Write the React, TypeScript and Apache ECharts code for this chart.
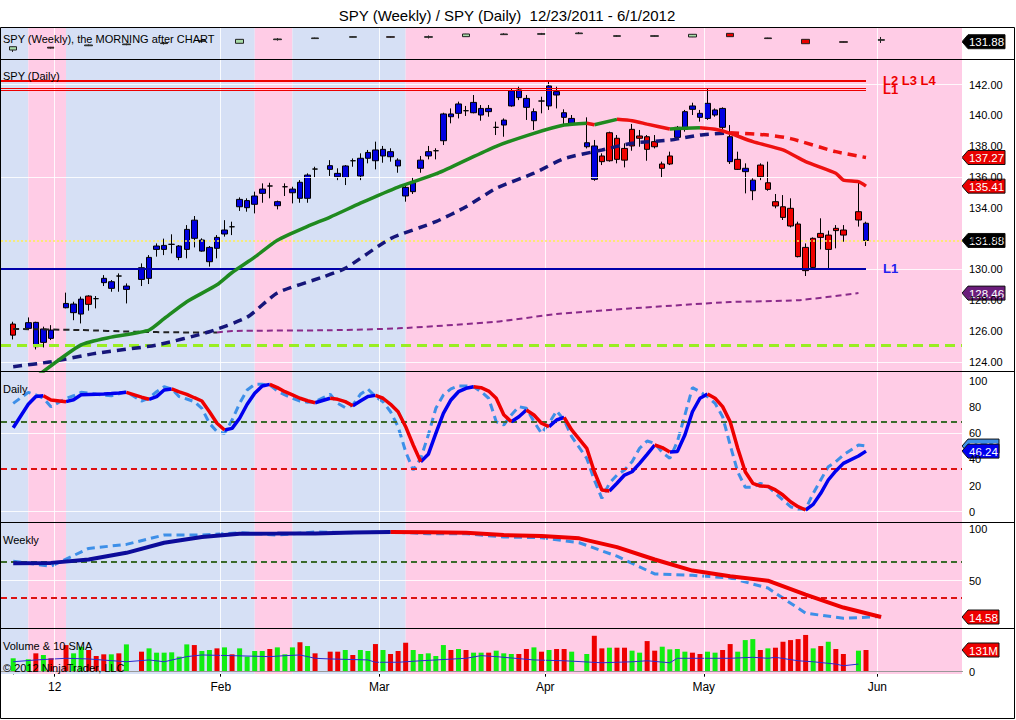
import React, { useEffect, useRef } from "react";
import * as echarts from "echarts";

// ---------------- calendar / categories ----------------
const TITLE = "SPY (Weekly) / SPY (Daily)  12/23/2011 - 6/1/2012";
const FIRST_DAY = "2011-12-23";
const LAST_DAY = "2012-05-30";
const LAST_WEEK_DAY = "2012-06-01";
const HOLIDAYS = ["2011-12-26", "2012-01-02", "2012-01-16", "2012-02-20", "2012-04-06", "2012-05-28"];
const MONTH_FIRST_DAYS = ["2012-01-02", "2012-02-01", "2012-03-01", "2012-04-02", "2012-05-01", "2012-06-01"];
const MONTH_LABELS = ["12", "Feb", "Mar", "Apr", "May", "Jun"];
// background state changes (starts blue, alternates)
const BAND_CHANGE_DAYS = ["2011-12-27", "2012-01-03", "2012-02-07", "2012-02-14", "2012-03-06"];

// ---------------- daily prices [open, close, low, high] ----------------
const OHLC: number[][] = [
  [126.45, 125.73, 125.45, 126.6],
  [126.17, 126.54, 126.1, 126.88], [124.98, 126.56, 124.8, 126.6], [125.26, 126.13, 124.93, 126.28], [125.52, 126.06, 125.41, 126.38],
  [127.51, 127.79, 127.47, 128.49], [127.19, 127.75, 126.7, 127.9], [127.1, 128.07, 126.49, 128.23], [128.27, 127.73, 127.32, 128.32],
  [128.1, 128.1, 127.47, 128.27], [129.14, 129.42, 128.92, 129.63], [128.77, 129.2, 128.55, 129.31], [129.57, 129.57, 128.55, 129.74], [128.7, 128.92, 127.79, 129.09],
  [129.35, 130.11, 128.92, 130.39], [129.42, 130.78, 129.05, 130.93], [131.3, 131.52, 130.83, 131.69], [131.3, 131.56, 130.93, 132.0],
  [131.63, 131.63, 131.04, 132.28], [130.78, 131.52, 130.6, 131.58], [131.3, 132.6, 130.72, 132.88], [132.02, 133.2, 131.43, 133.47], [131.19, 131.91, 131.15, 132.02],
  [130.5, 131.43, 130.18, 131.52], [131.37, 132.08, 130.72, 132.23], [132.3, 132.56, 132.13, 133.2], [132.77, 132.77, 132.23, 133.1], [134.07, 134.55, 133.8, 134.68],
  [134.01, 134.47, 133.75, 134.62], [134.23, 134.77, 133.64, 135.05], [134.94, 135.22, 134.33, 135.59], [135.42, 135.42, 134.62, 135.63], [134.14, 134.4, 133.9, 134.47],
  [135.37, 135.37, 134.77, 135.59], [134.98, 135.22, 134.29, 135.37], [134.62, 135.66, 134.33, 135.8], [134.62, 136.13, 134.33, 136.24], [136.52, 136.52, 135.98, 136.67],
  [136.5, 136.74, 136.07, 137.1], [136.02, 136.24, 135.8, 136.57], [135.98, 136.72, 135.48, 136.78], [137.06, 137.06, 136.67, 137.21],
  [136.07, 137.22, 135.8, 137.54], [137.22, 137.6, 136.89, 137.76], [137.06, 137.76, 136.5, 138.3], [137.37, 137.8, 136.93, 138.02], [137.32, 137.65, 137.0, 137.87],
  [136.72, 137.1, 136.28, 137.22], [134.77, 135.33, 134.4, 135.48], [135.05, 135.63, 134.9, 135.98], [136.57, 137.1, 136.28, 137.37], [137.37, 137.65, 137.15, 138.02],
  [137.71, 137.71, 137.15, 137.87], [138.36, 140.1, 138.08, 140.18], [139.92, 140.1, 139.49, 140.46], [140.14, 140.75, 139.81, 140.9], [140.31, 140.31, 139.97, 140.62],
  [140.18, 140.85, 140.14, 141.33], [140.03, 140.46, 139.66, 140.68], [140.25, 140.46, 139.92, 140.68], [139.23, 139.23, 138.73, 139.6], [139.38, 139.7, 138.62, 139.81],
  [140.62, 141.61, 140.57, 141.76], [141.16, 141.66, 141.0, 141.87], [140.53, 141.11, 139.71, 141.33], [139.66, 140.25, 139.06, 140.46], [140.94, 140.94, 140.14, 141.22],
  [140.62, 141.92, 140.36, 142.2], [141.33, 141.55, 140.46, 141.87], [139.88, 140.18, 139.38, 140.4], [139.49, 139.81, 139.32, 140.03],
  [137.97, 138.23, 137.86, 139.88], [135.85, 138.02, 135.76, 138.41], [137.37, 137.0, 136.78, 137.54], [138.88, 137.06, 137.0, 138.95], [138.52, 137.15, 136.89, 138.73],
  [137.86, 137.1, 136.63, 138.19], [139.1, 138.02, 137.71, 139.45], [138.67, 138.52, 137.97, 139.06], [138.62, 137.8, 137.06, 138.73], [138.3, 137.97, 137.86, 138.73],
  [136.85, 136.57, 135.98, 137.0], [137.37, 136.85, 136.78, 137.65], [138.58, 139.23, 138.52, 139.32], [139.1, 140.25, 138.95, 140.36], [140.4, 140.62, 140.03, 140.83],
  [139.88, 140.14, 139.6, 140.36], [139.81, 140.79, 139.71, 141.76], [140.03, 140.36, 139.92, 140.46], [139.23, 140.46, 139.1, 140.53], [137.0, 138.62, 136.85, 139.38],
  [137.15, 136.5, 136.46, 137.65], [136.35, 136.57, 134.94, 136.89], [135.11, 135.8, 134.5, 135.92], [136.78, 136.02, 135.8, 136.89], [135.63, 135.2, 135.11, 137.0],
  [134.4, 134.12, 133.97, 134.9], [134.07, 133.38, 133.21, 134.83], [133.97, 132.82, 132.73, 134.62], [132.95, 130.83, 130.78, 133.1], [131.43, 129.92, 129.57, 131.69],
  [132.02, 130.13, 130.07, 132.08], [132.34, 132.08, 131.3, 133.32], [132.23, 131.3, 130.0, 132.52], [132.67, 132.52, 131.37, 132.88], [132.56, 132.23, 131.8, 132.88],
  [133.75, 133.21, 132.78, 135.63], [131.88, 133.0, 131.52, 133.1],
];
const LAST_PRICE = 131.88;

// volume (millions) and up/down day flag
const VOLUME = [
  81,
  75, 111, 101, 81,
  161, 111, 151, 131,
  95, 105, 105, 111, 165,
  121, 141, 115, 115,
  117, 91, 165, 161, 125,
  131, 141, 147, 105, 141,
  91, 125, 125, 137, 147,
  105, 147, 178, 155, 111,
  121, 121, 131, 101,
  131, 125, 167, 131, 107,
  125, 175, 131, 107, 111,
  95, 161, 131, 137, 131,
  115, 115, 115, 127, 111,
  107, 107, 137, 147, 121,
  131, 137, 137, 121,
  107, 217, 141, 145, 145,
  145, 127, 115, 185, 127,
  151, 135, 137, 121, 115,
  107, 121, 115, 131, 167,
  121, 191, 197, 131, 141,
  145, 181, 191, 197, 222,
  141, 155, 181, 137, 107,
  127, 131,
];
const VOL_UP = [
  1,
  1, 0, 1, 0,
  0, 1, 1, 0,
  0, 0, 1, 0, 1,
  0, 1, 1, 1,
  1, 1, 1, 0, 1,
  1, 0, 1, 0, 1,
  1, 1, 1, 0, 1,
  1, 1, 0, 1, 0,
  0, 0, 1, 0,
  1, 1, 0, 1, 0,
  0, 0, 1, 1, 1,
  1, 1, 0, 1, 0,
  1, 1, 0, 1, 1,
  1, 0, 0, 1, 0,
  1, 0, 0, 1,
  1, 0, 0, 1, 0,
  0, 1, 1, 0, 0,
  1, 1, 1, 1, 0,
  0, 1, 1, 0, 0,
  1, 1, 1, 0, 1,
  0, 0, 0, 0, 0,
  1, 0, 1, 0, 0,
  1, 0,
];
const VOL_SMA_SLOTS = [0, 3, 7, 10, 15, 18, 20, 23, 25, 29, 34, 36, 38, 40, 42, 47, 48, 51, 54, 56, 60, 62, 64, 69, 73, 78, 82, 84, 87, 88, 91, 95, 98, 100, 101, 104, 106, 109, 110, 112];
const VOL_SMA = [60, 71, 81, 77, 60, 71, 60, 91, 101, 97, 91, 97, 101, 81, 77, 71, 57, 57, 66, 71, 81, 97, 91, 71, 66, 54, 60, 66, 54, 81, 81, 81, 87, 81, 87, 66, 60, 46, 36, 46];

// daily stochastics
const STOCH_D_SOLID = [
  64.1,
  82, 88.0, 88.5, 85.3,
  84, 85.5, 89.3, 89.5,
  89.7, 89.9, 90.2, 90.6, 91.1,
  87.4, 85.8, 87.8, 92.9,
  93.7, 91.5, 89.6, 87, 84.5,
  76.3, 67.5, 62.4, 63.6, 71.3,
  82, 90.4, 96, 97.2, 94.7,
  91.6, 89.1, 86.6, 84.7, 83.2,
  86.6, 85.8, 84, 80.9,
  84.5, 88.0, 88.8, 86.6, 82,
  76.3, 64.9, 50.9, 38.2, 43.8,
  59.8, 75.1, 85.3, 91.6, 94.2,
  95.4, 94.7, 92.1, 86.6, 74,
  68.7, 72.5, 77.6, 73.8, 67.5,
  64.9, 70, 72, 62.4,
  48.4, 30.5, 16.6, 15.8, 21.7,
  28, 30.5, 36.9, 43.8, 50.9,
  48.9, 45.6, 46.0, 58.5, 76.3,
  86.6, 89.8, 86.6, 80.2, 68.7,
  48.4, 30.5, 21.7, 19.6, 19.3,
  16.6, 12.7, 7.6, 3.8, 1.3,
  5.6, 14, 24.2, 31.1, 36.9,
  42.5, 46.24,
];
const STOCH_D_DASH = [
  82.7,
  91.1, 89.1, 86.6, 80.2,
  86.5, 88.5, 91.1, 90.5,
  89.6, 89, 88.5, 90, 91.6,
  84.5, 86.6, 91.6, 95.4,
  93.7, 87.8, 86, 84, 78.9,
  67.5, 61.1, 59.8, 70, 82.7,
  92.9, 97.2, 97.2, 96.7, 92.1,
  89.1, 86.6, 84.5, 83.5, 84,
  89.6, 82.7, 79.4, 81.4,
  89.6, 93.7, 87.8, 84, 76.3,
  64.9, 45.8, 31.8, 40.7, 58.5,
  78.9, 89.1, 93.7, 96, 96,
  95.4, 91.6, 86.6, 68.7, 66.2,
  73.8, 80.2, 78.9, 68.7, 59.8,
  67.5, 76.9, 70, 57.3,
  40.7, 24.2, 10.2, 21.7, 28,
  31.8, 38.2, 48.4, 54, 52.2,
  45.3, 40.7, 53.4, 73.8, 94.7,
  91.6, 87.8, 82.7, 72.5, 50.9,
  30.5, 18.6, 18.6, 21.7, 19.3,
  14, 8.9, 3.8, 2, 2,
  14, 24.2, 34.4, 38.2, 43.3,
  50.9, 50.1,
];
const STOCH_LEVELS = [68.5, 33];

// moving averages sampled along the date axis (weekday slot, value)
const SMA20_SLOTS = [3, 9, 13, 18, 20, 23, 27, 29, 32, 35, 39, 42, 46, 51, 56, 60, 64, 69, 73, 76, 77, 80, 82, 84, 87, 89, 91, 93, 95, 98, 102, 105, 109, 110, 112, 113];
const SMA20 = [123.0, 125.1, 125.6, 126.06, 126.8, 127.9, 129.0, 129.8, 130.8, 131.9, 132.8, 133.4, 134.3, 135.35, 136.2, 137.1, 138.0, 138.84, 139.38, 139.5, 139.4, 139.75, 139.66, 139.44, 139.12, 139.17, 139.2, 139.1, 138.84, 138.3, 137.76, 137.0, 136.25, 135.8, 135.7, 135.41];
const SMA50_SLOTS = [0, 5, 11, 19, 26, 31, 35, 41, 44, 50, 56, 60, 64, 69, 73, 78, 82, 87, 91, 95, 100, 103, 109, 113];
const SMA50 = [123.68, 124.0, 124.55, 125.09, 125.95, 126.9, 128.47, 129.5, 130.07, 132.0, 133.1, 134.07, 135.27, 136.25, 137.2, 137.76, 138.2, 138.4, 138.73, 138.88, 138.73, 138.5, 137.65, 137.27];
const SMA200_SLOTS = [0, 9, 16, 22, 27, 29, 42, 51, 64, 72, 82, 95, 104, 112];
const SMA200 = [126.13, 126.06, 125.95, 125.91, 125.9, 126.0, 126.05, 126.17, 126.6, 127.1, 127.47, 127.88, 128.0, 128.46];

// horizontal levels
const LEVEL_L234 = 142.26;
const LEVEL_L1_RED = [141.77, 141.66];
const LEVEL_L1_BLUE = 130.05;
const LEVEL_LIME = 125.06;

// weekly bars (one per Friday) [open, close, low, high]
const W_OHLC: number[][] = [
  [124.1, 127.2, 122.3, 127.4], [126.7, 125.9, 125.4, 127.0], [128.1, 128.8, 127.8, 129.3], [129.1, 129.7, 128.6, 130.1],
  [130.1, 130.7, 129.2, 131.4], [132.2, 132.8, 131.8, 133.3], [130.4, 134.1, 130.3, 134.3], [133.8, 134.4, 132.9, 135.2],
  [134.8, 135.4, 134.5, 135.7], [136.0, 136.6, 135.9, 136.8], [136.6, 136.0, 135.6, 136.9], [136.0, 136.6, 134.9, 137.7],
  [136.6, 139.1, 136.5, 139.2], [138.5, 139.1, 138.2, 139.8], [138.8, 139.4, 138.4, 140.1], [139.4, 140.0, 139.0, 141.0],
  [136.9, 137.5, 136.4, 138.0], [136.9, 137.5, 136.6, 137.9], [136.3, 138.8, 136.2, 139.0], [139.7, 136.6, 136.5, 139.9],
  [135.4, 134.8, 134.5, 135.6], [134.1, 130.0, 129.9, 134.3], [131.9, 131.3, 131.0, 132.2], [133.2, 133.8, 130.7, 136.3],
];
const W_STOCH_SOLID = [67.0, 67.3, 70.6, 77.1, 86.9, 92.5, 95.7, 95.8, 96.0, 96.8, 97.4, 97.2, 96.7, 94.4, 93.4, 91.2, 82.6, 70.6, 59.8, 54.2, 50, 36.3, 23.8, 14.58];
const W_STOCH_DASH = [68.9, 64, 81.4, 85.3, 94.4, 94.4, 96.7, 94.4, 97.4, 96.7, 97.4, 95.7, 95.7, 92.5, 91.8, 86.9, 73.8, 56.5, 55.2, 52.6, 42.8, 18.3, 13.4, 15];

// axis tick labels
const PRICE_TICKS = [124, 126, 128, 130, 132, 134, 136, 138, 140, 142];
const STOCH_TICKS = [0, 20, 40, 60, 80, 100];
const WSTOCH_TICKS = [50, 100];
const VOL_TICKS = [0];

// ---------------- helpers ----------------
const MS = 86400000;
const toUTC = (s: string) => {
  const [y, m, d] = s.split("-").map(Number);
  return Date.UTC(y, m - 1, d);
};
const isWeekday = (t: number) => {
  const w = new Date(t).getUTCDay();
  return w !== 0 && w !== 6;
};
const iso = (t: number) => new Date(t).toISOString().slice(0, 10);
const slotOf = (s: string) => {
  const t0 = toUTC(FIRST_DAY);
  const t1 = toUTC(s);
  let n = 0;
  for (let t = t0 + MS; t <= t1; t += MS) if (isWeekday(t)) n++;
  return n;
};
const TRADING_DAYS: string[] = (() => {
  const out: string[] = [];
  for (let t = toUTC(FIRST_DAY); t <= toUTC(LAST_DAY); t += MS) {
    if (!isWeekday(t)) continue;
    const s = iso(t);
    if (!HOLIDAYS.includes(s)) out.push(s);
  }
  return out;
})();
const WEEK_DAYS: string[] = (() => {
  const out: string[] = [];
  for (let t = toUTC(FIRST_DAY); t <= toUTC(LAST_WEEK_DAY); t += MS) {
    if (new Date(t).getUTCDay() === 5) out.push(iso(t));
  }
  return out;
})();

function splitBySlope(xs: number[], ys: number[]) {
  const up: any[] = [];
  const dn: any[] = [];
  let lastUp = -2;
  let lastDn = -2;
  for (let i = 0; i < xs.length - 1; i++) {
    const rising = ys[i + 1] > ys[i];
    if (rising) {
      if (lastUp !== i) {
        if (up.length) up.push([xs[i], null]);
        up.push([xs[i], ys[i]]);
      }
      up.push([xs[i + 1], ys[i + 1]]);
      lastUp = i + 1;
    } else {
      if (lastDn !== i) {
        if (dn.length) dn.push([xs[i], null]);
        dn.push([xs[i], ys[i]]);
      }
      dn.push([xs[i + 1], ys[i + 1]]);
      lastDn = i + 1;
    }
  }
  return { up, dn };
}

const FONT = '"Liberation Sans", Arial, sans-serif';
const BLUE_BG = "#d6e0f5";
const PINK_BG = "#ffcce6";

// layout
const PLOT_L = 1;
const PLOT_R = 962;
const SLOT_PX = 7.547;
const FIRST_BAR_X = 13.2;
const XMIN = -(FIRST_BAR_X - PLOT_L) / SLOT_PX;
const XMAX = XMIN + (PLOT_R - PLOT_L) / SLOT_PX;
const GRIDS = [
  { top: 28, height: 31 },
  { top: 59, height: 312 },
  { top: 371, height: 151 },
  { top: 522, height: 106 },
  { top: 628, height: 46 },
];
const Y_RANGES = [
  [115.7, 144.7],
  [123.4, 143.67],
  [-7.86, 107.4],
  [3.9, 107.1],
  [-13.9, 264],
];

function buildOption() {
  const slots = TRADING_DAYS.map(slotOf);
  const lastSlot = slots[slots.length - 1];
  const wSlots = WEEK_DAYS.map(slotOf);
  const monthSlots = MONTH_FIRST_DAYS.map((d) => slotOf(d) - 0.5);
  const bandEdges = [XMIN, ...BAND_CHANGE_DAYS.map(slotOf), XMAX];
  const bands = bandEdges.slice(0, -1).map((from, i) => [
    { xAxis: from, itemStyle: { color: i % 2 === 0 ? BLUE_BG : PINK_BG } },
    { xAxis: bandEdges[i + 1] },
  ]);
  const whiteY = [[], [124, 130, 136, 142], [0, 60], [50], []];

  const xAxis = GRIDS.map((_, i) => ({
    type: "value",
    gridIndex: i,
    min: XMIN,
    max: XMAX,
    show: i === 4,
    splitLine: { show: false },
    axisLine: { show: true, lineStyle: { color: "#000", width: 1 } },
    axisTick: { show: true, customValues: monthSlots, length: 5, lineStyle: { color: "#000" } },
    axisLabel: {
      show: true,
      customValues: monthSlots,
      formatter: (v: number) => {
        const k = monthSlots.findIndex((m) => Math.abs(m - v) < 0.01);
        return k >= 0 ? MONTH_LABELS[k] : "";
      },
      color: "#000",
      fontSize: 12,
      fontFamily: FONT,
      margin: 7,
    },
  }));

  const tickSets = [[], PRICE_TICKS, STOCH_TICKS, WSTOCH_TICKS, VOL_TICKS];
  const yAxis = GRIDS.map((_, i) => ({
    type: "value",
    gridIndex: i,
    position: "right",
    min: Y_RANGES[i][0],
    max: Y_RANGES[i][1],
    splitLine: { show: false },
    axisLine: { show: true, lineStyle: { color: "#000", width: 1 } },
    axisTick: { show: i > 0, customValues: tickSets[i], length: 4, lineStyle: { color: "#000" } },
    axisLabel: {
      show: i > 0,
      customValues: tickSets[i],
      formatter: (v: number) => (i === 1 ? v.toFixed(2) : String(v)),
      color: "#000",
      fontSize: 11,
      fontFamily: FONT,
      margin: 7,
    },
  }));

  const series: any[] = [];
  // background bands + white grid lines in every panel
  GRIDS.forEach((_, i) => {
    series.push({
      type: "line",
      xAxisIndex: i,
      yAxisIndex: i,
      data: [],
      silent: true,
      z: 0,
      markArea: { silent: true, data: bands },
      markLine: {
        silent: true,
        symbol: ["none", "none"],
        label: { show: false },
        lineStyle: { color: "#ffffff", width: 1, type: "solid", opacity: 0.85 },
        data: [...monthSlots.map((v) => ({ xAxis: v })), ...whiteY[i].map((v) => ({ yAxis: v }))],
      },
    });
  });

  // weekly strip
  series.push({
    type: "candlestick",
    xAxisIndex: 0,
    yAxisIndex: 0,
    z: 3,
    barWidth: 8,
    encode: { x: 0, y: [1, 2, 3, 4] },
    itemStyle: { color: "#a8dca8", color0: "#e80000", borderColor: "#222", borderColor0: "#222", borderColorDoji: "#222", borderWidth: 1 },
    data: wSlots.map((s, i) => [s, ...W_OHLC[i]]),
  });

  // daily candles
  series.push({
    type: "candlestick",
    xAxisIndex: 1,
    yAxisIndex: 1,
    z: 3,
    barWidth: 6,
    encode: { x: 0, y: [1, 2, 3, 4] },
    itemStyle: { color: "#0000e0", color0: "#ee0000", borderColor: "#000", borderColor0: "#000", borderColorDoji: "#000", borderWidth: 1 },
    data: slots.map((s, i) => [s, ...OHLC[i]]),
  });

  // level lines
  const seg = (v: number, color: string, width: number, label?: any) => [
    { coord: [XMIN, v], lineStyle: { color, width, type: "solid" }, label: label || { show: false } },
    { coord: [lastSlot, v] },
  ];
  series.push({
    type: "line",
    xAxisIndex: 1,
    yAxisIndex: 1,
    data: [],
    silent: true,
    z: 4,
    markLine: {
      silent: true,
      symbol: ["none", "none"],
      label: { show: false },
      data: [
        { yAxis: LEVEL_LIME, lineStyle: { color: "#99ee22", width: 3, type: [10, 6] } },
        { yAxis: LAST_PRICE, lineStyle: { color: "#ffee55", width: 1.5, type: [2, 2] } },
        seg(LEVEL_L1_BLUE, "#0000aa", 2, {
          show: true, position: "end", distance: 17, formatter: "L1", color: "#2222ee", fontSize: 13, fontWeight: "bold", fontFamily: FONT,
        }),
        seg(LEVEL_L1_RED[0], "#ee0000", 1),
        seg(LEVEL_L1_RED[1], "#ee0000", 1, {
          show: true, position: "end", distance: [17, 3], formatter: "L1", color: "#ee0000", fontSize: 13, fontWeight: "bold", fontFamily: FONT,
        }),
        seg(LEVEL_L234, "#ee0000", 2, {
          show: true, position: "end", distance: [17, 2], formatter: "L2 L3 L4", color: "#ee0000", fontSize: 13, fontWeight: "bold", fontFamily: FONT,
        }),
      ],
    },
  });

  const addSlopeLines = (xIdx: number, xs: number[], ys: number[], upStyle: any, dnStyle: any, z: number, smooth = 0) => {
    const { up, dn } = splitBySlope(xs, ys);
    series.push({ type: "line", xAxisIndex: xIdx, yAxisIndex: xIdx, data: up, showSymbol: false, symbol: "none", silent: true, z, smooth, lineStyle: upStyle, connectNulls: false });
    series.push({ type: "line", xAxisIndex: xIdx, yAxisIndex: xIdx, data: dn, showSymbol: false, symbol: "none", silent: true, z, smooth, lineStyle: dnStyle, connectNulls: false });
  };

  // moving averages
  addSlopeLines(1, SMA200_SLOTS, SMA200, { color: "#8a2a8a", width: 2, type: [6, 4] }, { color: "#222222", width: 2, type: [6, 4] }, 5, 0.2);
  addSlopeLines(1, SMA50_SLOTS, SMA50, { color: "#16167a", width: 3.5, type: [9, 6] }, { color: "#ee1111", width: 3.5, type: [9, 6] }, 5, 0.2);
  addSlopeLines(1, SMA20_SLOTS, SMA20, { color: "#1f8a1f", width: 3.5, type: "solid" }, { color: "#ee1111", width: 3.5, type: "solid" }, 6, 0.2);

  // daily stochastics
  series.push({
    type: "line", xAxisIndex: 2, yAxisIndex: 2, data: [], silent: true, z: 2,
    markLine: {
      silent: true, symbol: ["none", "none"], label: { show: false },
      data: [
        { yAxis: STOCH_LEVELS[0], lineStyle: { color: "#3b6b2b", width: 2, type: [6, 4] } },
        { yAxis: STOCH_LEVELS[1], lineStyle: { color: "#dd1111", width: 2, type: [6, 4] } },
      ],
    },
  });
  series.push({
    type: "line", xAxisIndex: 2, yAxisIndex: 2, showSymbol: false, symbol: "none", silent: true, z: 4,
    data: slots.map((s, i) => [s, STOCH_D_DASH[i]]),
    lineStyle: { color: "#3d8fe8", width: 3, type: [8, 5] },
  });
  addSlopeLines(2, slots, STOCH_D_SOLID, { color: "#0000ee", width: 3.5 }, { color: "#ee0000", width: 3.5 }, 5);

  // weekly stochastics
  series.push({
    type: "line", xAxisIndex: 3, yAxisIndex: 3, data: [], silent: true, z: 2,
    markLine: {
      silent: true, symbol: ["none", "none"], label: { show: false },
      data: [
        { yAxis: STOCH_LEVELS[0], lineStyle: { color: "#3b6b2b", width: 2, type: [6, 4] } },
        { yAxis: STOCH_LEVELS[1], lineStyle: { color: "#dd1111", width: 2, type: [6, 4] } },
      ],
    },
  });
  series.push({
    type: "line", xAxisIndex: 3, yAxisIndex: 3, showSymbol: false, symbol: "none", silent: true, z: 4,
    data: wSlots.map((s, i) => [s, W_STOCH_DASH[i]]),
    lineStyle: { color: "#3d8fe8", width: 3, type: [8, 5] },
  });
  addSlopeLines(3, wSlots, W_STOCH_SOLID, { color: "#0c0c9a", width: 4 }, { color: "#ee0000", width: 4 }, 5);

  // volume
  series.push({
    type: "bar", xAxisIndex: 4, yAxisIndex: 4, barWidth: 5, silent: true, z: 3,
    data: slots.map((s, i) => ({ value: [s, VOLUME[i]], itemStyle: { color: VOL_UP[i] ? "#11ee11" : "#ee0000" } })),
    markLine: {
      silent: true, symbol: ["none", "none"], label: { show: false },
      data: [{ yAxis: 0, lineStyle: { color: "#999", width: 1, type: "solid" } }],
    },
  });
  series.push({
    type: "line", xAxisIndex: 4, yAxisIndex: 4, showSymbol: false, symbol: "none", silent: true, z: 4,
    data: VOL_SMA_SLOTS.map((s, i) => [s, VOL_SMA[i]]),
    lineStyle: { color: "#2a2ad0", width: 1 },
  });

  return {
    animation: false,
    backgroundColor: "#ffffff",
    textStyle: { fontFamily: FONT },
    title: {
      text: TITLE,
      left: 502,
      top: 3,
      textAlign: "center",
      textStyle: { fontSize: 15, fontWeight: "normal", color: "#000", fontFamily: FONT },
    },
    grid: GRIDS.map((g) => ({ left: PLOT_L, right: 1016 - PLOT_R, top: g.top, height: g.height, containLabel: false })),
    xAxis,
    yAxis,
    series,
  };
}

function buildGraphic(chart: any) {
  const g: any[] = [];
  // frame and separators
  g.push({ type: "rect", silent: true, z: 50, shape: { x: 0.5, y: 27.5, width: 1014, height: 691 }, style: { fill: "none", stroke: "#000", lineWidth: 1 } });
  [59.5, 371.5, 522.5, 628.5].forEach((y) =>
    g.push({ type: "line", silent: true, z: 50, shape: { x1: 0, y1: y, x2: 1015, y2: y }, style: { stroke: "#000", lineWidth: 1 } })
  );
  const texts: [string, number][] = [
    ["SPY (Weekly), the MORNING after CHART", 39],
    ["SPY (Daily)", 76],
    ["Daily", 389],
    ["Weekly", 540],
    ["Volume & 10 SMA", 646],
    ["\u00a9 2012 NinjaTrader, LLC", 668],
  ];
  texts.forEach(([t, y]) =>
    g.push({ type: "text", silent: true, z: 60, style: { text: t, x: 3, y, fill: "#000", font: `11px ${FONT}`, verticalAlign: "middle", align: "left" } })
  );

  const labels = [
    { axis: 0, value: LAST_PRICE, text: LAST_PRICE.toFixed(2), fill: "#000000" },
    { axis: 1, value: SMA50[SMA50.length - 1], text: SMA50[SMA50.length - 1].toFixed(2), fill: "#e80000" },
    { axis: 1, value: SMA20[SMA20.length - 1], text: SMA20[SMA20.length - 1].toFixed(2), fill: "#e80000" },
    { axis: 1, value: LAST_PRICE, text: LAST_PRICE.toFixed(2), fill: "#000000" },
    { axis: 1, value: SMA200[SMA200.length - 1], text: SMA200[SMA200.length - 1].toFixed(2), fill: "#6b1d7b" },
    { axis: 2, value: STOCH_D_DASH[STOCH_D_DASH.length - 1], text: STOCH_D_DASH[STOCH_D_DASH.length - 1].toFixed(2), fill: "#3d8fe8" },
    { axis: 2, value: STOCH_D_SOLID[STOCH_D_SOLID.length - 1], text: STOCH_D_SOLID[STOCH_D_SOLID.length - 1].toFixed(2), fill: "#0000ee" },
    { axis: 3, value: W_STOCH_SOLID[W_STOCH_SOLID.length - 1], text: W_STOCH_SOLID[W_STOCH_SOLID.length - 1].toFixed(2), fill: "#ee0000" },
    { axis: 4, value: VOLUME[VOLUME.length - 1], text: VOLUME[VOLUME.length - 1] + "M", fill: "#ee0000" },
  ];
  labels.forEach((l) => {
    const y = chart.convertToPixel({ yAxisIndex: l.axis }, l.value);
    const w = Math.max(37, l.text.length * 6 + 7);
    const x0 = PLOT_R;
    g.push({
      type: "group",
      z: 70,
      silent: true,
      children: [
        {
          type: "polygon",
          shape: { points: [[x0, y], [x0 + 6, y - 7], [x0 + w, y - 7], [x0 + w, y + 7], [x0 + 6, y + 7]] },
          style: { fill: l.fill, stroke: "#111", lineWidth: 1 },
        },
        {
          type: "text",
          style: { text: l.text, x: x0 + 3 + w / 2, y: y + 0.5, fill: "#fff", font: `11.5px ${FONT}`, align: "center", verticalAlign: "middle" },
        },
      ],
    });
  });
  return g;
}

export default function App() {
  const ref = useRef<HTMLDivElement>(null);
  useEffect(() => {
    document.body.style.margin = "0";
    const chart = echarts.init(ref.current as HTMLDivElement, null, { renderer: "svg" });
    chart.setOption(buildOption() as any);
    chart.setOption({ graphic: buildGraphic(chart) } as any);
    return () => chart.dispose();
  }, []);
  return <div ref={ref} style={{ width: 1016, height: 720 }} />;
}
